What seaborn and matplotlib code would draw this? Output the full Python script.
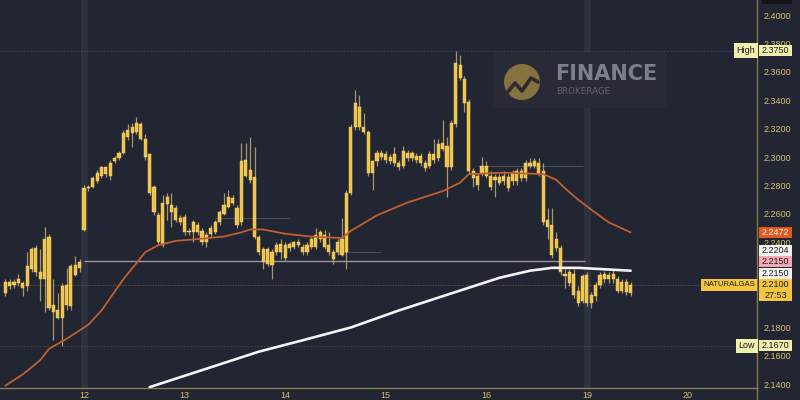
"""
plot.py
NATURALGAS hourly candles (11th - 19th) with two moving averages,
drawn in a dark trading-terminal style.
"""

import numpy as np
import pandas as pd
import matplotlib
matplotlib.use("Agg")
import matplotlib.pyplot as plt
import matplotlib.transforms as mtransforms
from matplotlib.patches import Rectangle, Ellipse, FancyBboxPatch
from matplotlib.lines import Line2D
import seaborn as sns

# ---- data ----------------------------------------------------------------
OPEN = [2.204, 2.212, 2.210, 2.211, 2.211, 2.209, 2.221, 2.236, 2.219, 2.214,
        2.244, 2.196, 2.192, 2.187, 2.210, 2.195, 2.224, 2.222,
        2.249, 2.278, 2.279, 2.283, 2.287, 2.288, 2.287, 2.297, 2.299, 2.303,
        2.314, 2.321, 2.318, 2.323, 2.313, 2.302, 2.279, 2.259, 2.238, 2.267,
        2.266, 2.264, 2.257,
        2.258, 2.247, 2.247, 2.252, 2.248, 2.240, 2.246, 2.247, 2.254, 2.260,
        2.265, 2.271, 2.264, 2.254, 2.298, 2.291, 2.286, 2.244, 2.235, 2.235,
        2.224, 2.233, 2.239,
        2.229, 2.236, 2.240, 2.238, 2.237, 2.233, 2.237, 2.237, 2.242, 2.245,
        2.238, 2.233, 2.233, 2.242, 2.233, 2.275, 2.321, 2.335, 2.321, 2.318,
        2.289, 2.297, 2.303,
        2.302, 2.297, 2.302, 2.296, 2.294, 2.303, 2.299, 2.301, 2.301, 2.296,
        2.294, 2.298, 2.299, 2.306, 2.308, 2.293, 2.323, 2.365, 2.355, 2.339,
        2.290, 2.287, 2.289,
        2.294, 2.287, 2.284, 2.286, 2.283, 2.286, 2.283, 2.290, 2.285, 2.285,
        2.294, 2.294, 2.296, 2.290, 2.251, 2.252, 2.236, 2.236, 2.218, 2.219,
        2.218, 2.206, 2.199,
        2.217, 2.197, 2.202, 2.210, 2.214, 2.217, 2.214, 2.214, 2.212, 2.212,
        2.204]
HIGH = [2.214, 2.214, 2.214, 2.218, 2.213, 2.233, 2.237, 2.238, 2.235, 2.251,
        2.246, 2.214, 2.204, 2.211, 2.222, 2.225, 2.230, 2.228,
        2.280, 2.280, 2.287, 2.291, 2.294, 2.294, 2.298, 2.301, 2.304, 2.319,
        2.323, 2.324, 2.328, 2.325, 2.316, 2.303, 2.280, 2.261, 2.273, 2.275,
        2.275, 2.266, 2.259,
        2.260, 2.250, 2.256, 2.254, 2.250, 2.247, 2.252, 2.256, 2.263, 2.275,
        2.277, 2.273, 2.266, 2.310, 2.310, 2.314, 2.307, 2.245, 2.237, 2.237,
        2.235, 2.240, 2.242,
        2.240, 2.240, 2.241, 2.242, 2.239, 2.240, 2.244, 2.250, 2.249, 2.249,
        2.247, 2.235, 2.242, 2.257, 2.277, 2.323, 2.347, 2.344, 2.331, 2.319,
        2.298, 2.305, 2.305,
        2.304, 2.302, 2.307, 2.298, 2.308, 2.305, 2.304, 2.303, 2.303, 2.298,
        2.304, 2.313, 2.313, 2.326, 2.314, 2.326, 2.375, 2.372, 2.357, 2.341,
        2.292, 2.289, 2.300,
        2.297, 2.290, 2.288, 2.288, 2.290, 2.288, 2.291, 2.292, 2.292, 2.298,
        2.299, 2.299, 2.299, 2.296, 2.264, 2.264, 2.247, 2.238, 2.221, 2.221,
        2.221, 2.209, 2.218,
        2.219, 2.205, 2.212, 2.219, 2.220, 2.219, 2.221, 2.216, 2.214, 2.214,
        2.212]
LOW = [2.202, 2.207, 2.208, 2.209, 2.202, 2.206, 2.219, 2.216, 2.199, 2.191,
       2.192, 2.171, 2.186, 2.167, 2.192, 2.192, 2.216, 2.219,
       2.248, 2.276, 2.278, 2.282, 2.285, 2.286, 2.284, 2.296, 2.298, 2.302,
       2.312, 2.307, 2.316, 2.312, 2.298, 2.273, 2.259, 2.238, 2.237, 2.256,
       2.251, 2.254, 2.252,
       2.245, 2.245, 2.240, 2.245, 2.238, 2.237, 2.244, 2.246, 2.252, 2.259,
       2.264, 2.266, 2.250, 2.252, 2.286, 2.282, 2.242, 2.231, 2.221, 2.223,
       2.214, 2.231, 2.228,
       2.227, 2.234, 2.235, 2.237, 2.231, 2.231, 2.235, 2.235, 2.240, 2.235,
       2.231, 2.225, 2.231, 2.230, 2.221, 2.273, 2.319, 2.319, 2.316, 2.287,
       2.277, 2.294, 2.298,
       2.296, 2.295, 2.294, 2.291, 2.292, 2.297, 2.297, 2.296, 2.294, 2.290,
       2.292, 2.296, 2.297, 2.304, 2.272, 2.291, 2.321, 2.354, 2.332, 2.288,
       2.279, 2.277, 2.287,
       2.285, 2.277, 2.272, 2.280, 2.280, 2.276, 2.280, 2.280, 2.283, 2.283,
       2.292, 2.292, 2.287, 2.252, 2.242, 2.229, 2.234, 2.217, 2.208, 2.209,
       2.201, 2.195, 2.197,
       2.195, 2.194, 2.199, 2.208, 2.211, 2.211, 2.211, 2.204, 2.204, 2.203,
       2.202]
CLOSE = [2.212, 2.209, 2.212, 2.214, 2.208, 2.223, 2.235, 2.219, 2.214, 2.242,
         2.194, 2.191, 2.187, 2.209, 2.196, 2.223, 2.217, 2.226,
         2.278, 2.279, 2.285, 2.289, 2.293, 2.293, 2.296, 2.299, 2.303, 2.317,
         2.319, 2.317, 2.324, 2.313, 2.300, 2.275, 2.261, 2.240, 2.268, 2.272,
         2.261, 2.256, 2.254,
         2.247, 2.248, 2.254, 2.247, 2.240, 2.245, 2.250, 2.254, 2.261, 2.266,
         2.272, 2.268, 2.252, 2.297, 2.287, 2.284, 2.244, 2.233, 2.226, 2.225,
         2.233, 2.238, 2.233,
         2.238, 2.239, 2.237, 2.240, 2.233, 2.238, 2.242, 2.245, 2.247, 2.237,
         2.233, 2.228, 2.240, 2.231, 2.275, 2.321, 2.338, 2.321, 2.318, 2.289,
         2.297, 2.303, 2.300,
         2.298, 2.300, 2.296, 2.293, 2.304, 2.299, 2.303, 2.298, 2.296, 2.292,
         2.302, 2.302, 2.309, 2.310, 2.293, 2.324, 2.366, 2.356, 2.338, 2.290,
         2.285, 2.280, 2.294,
         2.287, 2.279, 2.286, 2.282, 2.287, 2.278, 2.289, 2.283, 2.290, 2.296,
         2.296, 2.297, 2.289, 2.254, 2.256, 2.231, 2.242, 2.219, 2.216, 2.211,
         2.203, 2.197, 2.216,
         2.197, 2.203, 2.210, 2.217, 2.218, 2.214, 2.218, 2.206, 2.206, 2.205,
         2.210]

DAY_TICKS = [18, 41, 64, 87, 110, 133, 156]
DAY_LABELS = ["12", "13", "14", "15", "16", "19", "20"]
SESSION_BREAKS = [18, 133]

# moving averages, sampled at candle indices
FAST_IDX = [0, 4, 8, 10, 14, 19, 22, 27, 32, 35, 39, 43, 50, 54, 56, 59, 64,
            70, 77, 79, 85, 92, 100, 104, 106, 114, 123, 126, 128, 131, 134,
            138, 143]
FAST_VAL = [2.139, 2.147, 2.157, 2.165, 2.172, 2.182, 2.192, 2.214, 2.233,
            2.238, 2.241, 2.242, 2.244, 2.247, 2.249, 2.249, 2.246, 2.244,
            2.243, 2.248, 2.259, 2.268, 2.276, 2.282, 2.288, 2.289, 2.288,
            2.284, 2.278, 2.270, 2.263, 2.254, 2.247]
SLOW_IDX = [33, 42, 52, 58, 68, 79, 90, 102, 113, 120, 125, 131, 143]
SLOW_VAL = [2.138, 2.147, 2.157, 2.163, 2.171, 2.180, 2.192, 2.204, 2.215,
            2.220, 2.222, 2.222, 2.220]

HIGH_LVL, LOW_LVL, LAST_PRICE = 2.375, 2.167, 2.210
LEVEL_LINE = 2.227
FAINT_LEVELS = [(2.257, 48, 65), (2.233, 75, 86), (2.294, 108, 132)]
Y_TICKS = [2.14, 2.16, 2.18, 2.20, 2.22, 2.24, 2.26, 2.28, 2.30, 2.32,
           2.34, 2.36, 2.38, 2.40]
HIDDEN_TICKS = [2.20, 2.22]   # fully covered by the price tags

# right-axis price tags, lowest first (they stack upwards)
TAG_VALUES = [2.2100, 2.2150, 2.2150, 2.2204, 2.2472]
TAG_FILLS = ["#f5c542", "#f2f2f2", "#f4a9b5", "#f2f2f2", "#e2581e"]
TAG_TEXT = ["#1b1b1b", "#1b1b1b", "#1b1b1b", "#1b1b1b", "#ffffff"]

# ---- style --------------------------------------------------------------
BG = "#222532"
GOLD = "#d9bf6e"
SPINE = "#8c7b52"
CANDLE = "#f2c445"
CANDLE_EDGE = "#f8d97c"
WICK = "#a8976c"

sns.set_style("dark", {"axes.facecolor": BG, "figure.facecolor": BG})
plt.rcParams["font.family"] = ["Liberation Sans", "DejaVu Sans"]

fig = plt.figure(figsize=(8, 4), dpi=100)
ax = fig.add_axes([0, 12 / 400, 757 / 800, 388 / 400])
ax.set_facecolor(BG)
ax.grid(False)

idx = np.arange(len(CLOSE))
o, h, l, c = (np.array(a) for a in (OPEN, HIGH, LOW, CLOSE))

# session separators
for s in SESSION_BREAKS:
    ax.axvline(s, color="#2d3140", lw=5, zorder=0)

# reference lines
ax.axhline(HIGH_LVL, color="#5c6070", lw=0.6, ls=(0, (2, 2)), alpha=0.6, zorder=1)
ax.axhline(LOW_LVL, color="#5c6070", lw=0.6, ls=(0, (2, 2)), alpha=0.6, zorder=1)
ax.axhline(LAST_PRICE, color="#b08a4a", lw=0.6, ls=(0, (1, 2)), alpha=0.7, zorder=1)
ax.hlines(LEVEL_LINE, 18, 132.5, color="#cbbcc8", lw=1.0, alpha=0.75, zorder=2)
for lvl, a, b in FAINT_LEVELS:
    ax.hlines(lvl, a, b, color="#4a4e5c", lw=0.8, zorder=1)

# watermark
wm = dict(transform=fig.transFigure, clip_on=False)
ax.add_patch(FancyBboxPatch((493 / 800, 1 - 108 / 400), 174 / 800, 56 / 400,
                            boxstyle="round,pad=0.0,rounding_size=0.005",
                            fc="#282b36", ec="none", zorder=1, **wm))
ax.add_patch(Ellipse((522 / 800, 1 - 82 / 400), 36 / 800, 36 / 400,
                     fc="#867140", ec="none", zorder=1, **wm))
ax.add_line(Line2D([507 / 800, 515 / 800, 522 / 800, 531 / 800, 538 / 800],
                   [1 - 93 / 400, 1 - 83 / 400, 1 - 91 / 400, 1 - 78 / 400, 1 - 82 / 400],
                   color="#2b2a2c", lw=2.6, zorder=1, **wm))
fig.text(555 / 800, 1 - 74 / 400, "FINANCE", fontsize=15, fontweight="bold",
         family="DejaVu Sans", color="#7c808b", va="center", ha="left", zorder=1)
fig.text(556 / 800, 1 - 92 / 400, "BROKERAGE", fontsize=6.3, family="DejaVu Sans",
         color="#61656f", va="center", ha="left", zorder=1)

# candles
ax.vlines(idx, l, h, color=WICK, lw=0.9, zorder=3)
body_lo = np.minimum(o, c)
body_h = np.maximum(np.abs(c - o), 0.0009)
ax.bar(idx, body_h, bottom=body_lo, width=0.72, color=CANDLE,
       edgecolor=CANDLE_EDGE, linewidth=0.3, zorder=4)

# moving averages
sns.lineplot(x=FAST_IDX, y=FAST_VAL, ax=ax, color="#c0602e", lw=1.3, zorder=5)
sns.lineplot(x=SLOW_IDX, y=SLOW_VAL, ax=ax, color="#f4f4f4", lw=1.9, zorder=5)

# axes
ax.set_xlim(-1.21, 171.9)
ax.set_ylim(2.1374, 2.4106)
ax.yaxis.tick_right()
ax.set_yticks(Y_TICKS)
ax.set_yticklabels(["" if any(abs(v - t) < 1e-9 for t in HIDDEN_TICKS)
                    else f"{v:.4f}" for v in Y_TICKS])
ax.set_xticks(DAY_TICKS)
ax.set_xticklabels(DAY_LABELS)
ax.tick_params(axis="y", length=0, pad=4.5, labelsize=6.5, labelcolor=GOLD)
ax.tick_params(axis="x", length=0, pad=2.2, labelsize=6.5, labelcolor=GOLD)
ax.set_xlabel("")
ax.set_ylabel("")
for side in ("top", "left"):
    ax.spines[side].set_visible(False)
for side in ("bottom", "right"):
    ax.spines[side].set_visible(True)
    ax.spines[side].set_color(SPINE)
    ax.spines[side].set_linewidth(1.0)
fig.add_artist(Line2D([757 / 800, 757 / 800], [0, 12 / 400], color=SPINE, lw=1.0))
fig.add_artist(Rectangle((762 / 800, 1 - 4 / 400), 30 / 800, 4 / 400,
                         fc="#12141b", ec="none"))

# price tags on the right axis
tag_tr = mtransforms.blended_transform_factory(fig.transFigure, ax.transData)
PX = (2.4106 - 2.1374) / 388          # one pixel in price units
TAG_L, TAG_W, TAG_H = 759 / 800, 33 / 800, 11 * PX


def value_tag(y, text, fill, fg):
    fig.add_artist(Rectangle((TAG_L, y - TAG_H / 2), TAG_W, TAG_H,
                             transform=tag_tr, fc=fill, ec="none", zorder=6))
    fig.text(TAG_L + TAG_W / 2, y, text, transform=tag_tr, fontsize=6.5,
             color=fg, ha="center", va="center", zorder=7)


def side_tag(y, text, fill, size=6.5):
    fig.text(755 / 800, y, text, transform=tag_tr, fontsize=size,
             color="#1b1b1b", ha="right", va="center", zorder=7,
             bbox=dict(boxstyle="square,pad=0.3", fc=fill, ec="none"))


value_tag(HIGH_LVL, f"{HIGH_LVL:.4f}", "#f2eeae", "#1b1b1b")
side_tag(HIGH_LVL, "High", "#f2eeae")
value_tag(LOW_LVL, f"{LOW_LVL:.4f}", "#f2eeae", "#1b1b1b")
side_tag(LOW_LVL, "Low", "#f2eeae")

gap = 11.5 * PX
pos = []
for v in TAG_VALUES:
    p = v if not pos else max(v, pos[-1] + gap)
    pos.append(p)
for v, p, fill, fg in zip(TAG_VALUES, pos, TAG_FILLS, TAG_TEXT):
    value_tag(p, f"{v:.4f}", fill, fg)
value_tag(pos[0] - 11 * PX, "27:53", TAG_FILLS[0], "#1b1b1b")
side_tag(pos[0], "NATURALGAS", TAG_FILLS[0], size=5.6)

fig.savefig("out.png", dpi=100, facecolor=BG)
plt.close()
